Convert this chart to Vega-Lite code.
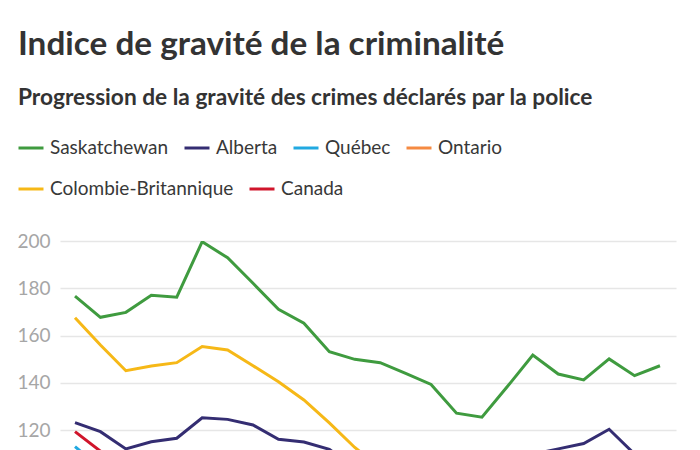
{
  "$schema": "https://vega.github.io/schema/vega-lite/v6.json",
  "width": 616,
  "height": 378,
  "autosize": {"type": "none"},
  "padding": {"left": 60, "top": 241, "right": 24, "bottom": 10},
  "background": "white",
  "title": {
    "text": "Indice de gravité de la criminalité",
    "subtitle": "Progression de la gravité des crimes déclarés par la police",
    "anchor": "start",
    "frame": "group",
    "dx": -42,
    "offset": 23,
    "font": "Lato",
    "fontSize": 33.3,
    "fontWeight": "bold",
    "color": "#333333",
    "subtitleFont": "Lato",
    "subtitleFontSize": 22.7,
    "subtitleFontWeight": "bold",
    "subtitleColor": "#333333",
    "subtitlePadding": 25
  },
  "data": {
    "values": [
      {"annee": 1998, "region": "Saskatchewan", "indice": 176.7},
      {"annee": 1999, "region": "Saskatchewan", "indice": 167.7},
      {"annee": 2000, "region": "Saskatchewan", "indice": 169.8},
      {"annee": 2001, "region": "Saskatchewan", "indice": 177.0},
      {"annee": 2002, "region": "Saskatchewan", "indice": 176.2},
      {"annee": 2003, "region": "Saskatchewan", "indice": 199.7},
      {"annee": 2004, "region": "Saskatchewan", "indice": 192.9},
      {"annee": 2005, "region": "Saskatchewan", "indice": 182.1},
      {"annee": 2006, "region": "Saskatchewan", "indice": 171.1},
      {"annee": 2007, "region": "Saskatchewan", "indice": 165.2},
      {"annee": 2008, "region": "Saskatchewan", "indice": 153.1},
      {"annee": 2009, "region": "Saskatchewan", "indice": 149.9},
      {"annee": 2010, "region": "Saskatchewan", "indice": 148.5},
      {"annee": 2011, "region": "Saskatchewan", "indice": 144.0},
      {"annee": 2012, "region": "Saskatchewan", "indice": 139.3},
      {"annee": 2013, "region": "Saskatchewan", "indice": 127.1},
      {"annee": 2014, "region": "Saskatchewan", "indice": 125.4},
      {"annee": 2015, "region": "Saskatchewan", "indice": 138.4},
      {"annee": 2016, "region": "Saskatchewan", "indice": 151.7},
      {"annee": 2017, "region": "Saskatchewan", "indice": 143.7},
      {"annee": 2018, "region": "Saskatchewan", "indice": 141.2},
      {"annee": 2019, "region": "Saskatchewan", "indice": 150.1},
      {"annee": 2020, "region": "Saskatchewan", "indice": 143.0},
      {"annee": 2021, "region": "Saskatchewan", "indice": 147.2},

      {"annee": 1998, "region": "Alberta", "indice": 123.1},
      {"annee": 1999, "region": "Alberta", "indice": 119.3},
      {"annee": 2000, "region": "Alberta", "indice": 112.0},
      {"annee": 2001, "region": "Alberta", "indice": 115.0},
      {"annee": 2002, "region": "Alberta", "indice": 116.5},
      {"annee": 2003, "region": "Alberta", "indice": 125.2},
      {"annee": 2004, "region": "Alberta", "indice": 124.5},
      {"annee": 2005, "region": "Alberta", "indice": 122.1},
      {"annee": 2006, "region": "Alberta", "indice": 116.1},
      {"annee": 2007, "region": "Alberta", "indice": 114.9},
      {"annee": 2008, "region": "Alberta", "indice": 111.8},
      {"annee": 2009, "region": "Alberta", "indice": 104.0},
      {"annee": 2010, "region": "Alberta", "indice": 98.0},
      {"annee": 2011, "region": "Alberta", "indice": 91.0},
      {"annee": 2012, "region": "Alberta", "indice": 90.0},
      {"annee": 2013, "region": "Alberta", "indice": 89.0},
      {"annee": 2014, "region": "Alberta", "indice": 93.0},
      {"annee": 2015, "region": "Alberta", "indice": 105.0},
      {"annee": 2016, "region": "Alberta", "indice": 109.8},
      {"annee": 2017, "region": "Alberta", "indice": 112.0},
      {"annee": 2018, "region": "Alberta", "indice": 114.3},
      {"annee": 2019, "region": "Alberta", "indice": 120.3},
      {"annee": 2020, "region": "Alberta", "indice": 109.8},
      {"annee": 2021, "region": "Alberta", "indice": 104.0},

      {"annee": 1998, "region": "Québec", "indice": 113.0},
      {"annee": 1999, "region": "Québec", "indice": 104.0},
      {"annee": 2000, "region": "Québec", "indice": 101.0},
      {"annee": 2001, "region": "Québec", "indice": 100.0},
      {"annee": 2002, "region": "Québec", "indice": 99.0},
      {"annee": 2003, "region": "Québec", "indice": 101.0},
      {"annee": 2004, "region": "Québec", "indice": 98.0},
      {"annee": 2005, "region": "Québec", "indice": 95.0},
      {"annee": 2006, "region": "Québec", "indice": 94.0},
      {"annee": 2007, "region": "Québec", "indice": 89.0},
      {"annee": 2008, "region": "Québec", "indice": 86.0},
      {"annee": 2009, "region": "Québec", "indice": 82.0},
      {"annee": 2010, "region": "Québec", "indice": 78.0},
      {"annee": 2011, "region": "Québec", "indice": 74.0},
      {"annee": 2012, "region": "Québec", "indice": 71.0},
      {"annee": 2013, "region": "Québec", "indice": 64.0},
      {"annee": 2014, "region": "Québec", "indice": 59.0},
      {"annee": 2015, "region": "Québec", "indice": 57.0},
      {"annee": 2016, "region": "Québec", "indice": 58.0},
      {"annee": 2017, "region": "Québec", "indice": 57.0},
      {"annee": 2018, "region": "Québec", "indice": 58.0},
      {"annee": 2019, "region": "Québec", "indice": 60.0},
      {"annee": 2020, "region": "Québec", "indice": 57.0},
      {"annee": 2021, "region": "Québec", "indice": 57.0},

      {"annee": 1998, "region": "Ontario", "indice": 102.0},
      {"annee": 1999, "region": "Ontario", "indice": 97.0},
      {"annee": 2000, "region": "Ontario", "indice": 93.0},
      {"annee": 2001, "region": "Ontario", "indice": 91.0},
      {"annee": 2002, "region": "Ontario", "indice": 89.0},
      {"annee": 2003, "region": "Ontario", "indice": 88.0},
      {"annee": 2004, "region": "Ontario", "indice": 84.0},
      {"annee": 2005, "region": "Ontario", "indice": 81.0},
      {"annee": 2006, "region": "Ontario", "indice": 80.0},
      {"annee": 2007, "region": "Ontario", "indice": 75.0},
      {"annee": 2008, "region": "Ontario", "indice": 71.0},
      {"annee": 2009, "region": "Ontario", "indice": 68.0},
      {"annee": 2010, "region": "Ontario", "indice": 65.0},
      {"annee": 2011, "region": "Ontario", "indice": 60.0},
      {"annee": 2012, "region": "Ontario", "indice": 58.0},
      {"annee": 2013, "region": "Ontario", "indice": 53.0},
      {"annee": 2014, "region": "Ontario", "indice": 51.0},
      {"annee": 2015, "region": "Ontario", "indice": 52.0},
      {"annee": 2016, "region": "Ontario", "indice": 54.0},
      {"annee": 2017, "region": "Ontario", "indice": 56.0},
      {"annee": 2018, "region": "Ontario", "indice": 59.0},
      {"annee": 2019, "region": "Ontario", "indice": 60.0},
      {"annee": 2020, "region": "Ontario", "indice": 55.0},
      {"annee": 2021, "region": "Ontario", "indice": 54.0},

      {"annee": 1998, "region": "Colombie-Britannique", "indice": 167.5},
      {"annee": 1999, "region": "Colombie-Britannique", "indice": 156.0},
      {"annee": 2000, "region": "Colombie-Britannique", "indice": 145.1},
      {"annee": 2001, "region": "Colombie-Britannique", "indice": 147.1},
      {"annee": 2002, "region": "Colombie-Britannique", "indice": 148.5},
      {"annee": 2003, "region": "Colombie-Britannique", "indice": 155.3},
      {"annee": 2004, "region": "Colombie-Britannique", "indice": 153.9},
      {"annee": 2005, "region": "Colombie-Britannique", "indice": 147.2},
      {"annee": 2006, "region": "Colombie-Britannique", "indice": 140.4},
      {"annee": 2007, "region": "Colombie-Britannique", "indice": 132.7},
      {"annee": 2008, "region": "Colombie-Britannique", "indice": 123.0},
      {"annee": 2009, "region": "Colombie-Britannique", "indice": 112.6},
      {"annee": 2010, "region": "Colombie-Britannique", "indice": 104.0},
      {"annee": 2011, "region": "Colombie-Britannique", "indice": 97.0},
      {"annee": 2012, "region": "Colombie-Britannique", "indice": 95.0},
      {"annee": 2013, "region": "Colombie-Britannique", "indice": 88.0},
      {"annee": 2014, "region": "Colombie-Britannique", "indice": 93.0},
      {"annee": 2015, "region": "Colombie-Britannique", "indice": 98.0},
      {"annee": 2016, "region": "Colombie-Britannique", "indice": 95.0},
      {"annee": 2017, "region": "Colombie-Britannique", "indice": 93.0},
      {"annee": 2018, "region": "Colombie-Britannique", "indice": 97.0},
      {"annee": 2019, "region": "Colombie-Britannique", "indice": 102.0},
      {"annee": 2020, "region": "Colombie-Britannique", "indice": 102.0},
      {"annee": 2021, "region": "Colombie-Britannique", "indice": 98.0},

      {"annee": 1998, "region": "Canada", "indice": 119.3},
      {"annee": 1999, "region": "Canada", "indice": 111.0},
      {"annee": 2000, "region": "Canada", "indice": 106.7},
      {"annee": 2001, "region": "Canada", "indice": 105.3},
      {"annee": 2002, "region": "Canada", "indice": 104.1},
      {"annee": 2003, "region": "Canada", "indice": 106.8},
      {"annee": 2004, "region": "Canada", "indice": 104.1},
      {"annee": 2005, "region": "Canada", "indice": 101.3},
      {"annee": 2006, "region": "Canada", "indice": 100.0},
      {"annee": 2007, "region": "Canada", "indice": 95.3},
      {"annee": 2008, "region": "Canada", "indice": 90.6},
      {"annee": 2009, "region": "Canada", "indice": 87.8},
      {"annee": 2010, "region": "Canada", "indice": 82.9},
      {"annee": 2011, "region": "Canada", "indice": 77.6},
      {"annee": 2012, "region": "Canada", "indice": 75.4},
      {"annee": 2013, "region": "Canada", "indice": 68.8},
      {"annee": 2014, "region": "Canada", "indice": 66.9},
      {"annee": 2015, "region": "Canada", "indice": 70.4},
      {"annee": 2016, "region": "Canada", "indice": 72.0},
      {"annee": 2017, "region": "Canada", "indice": 73.6},
      {"annee": 2018, "region": "Canada", "indice": 75.6},
      {"annee": 2019, "region": "Canada", "indice": 79.8},
      {"annee": 2020, "region": "Canada", "indice": 73.9},
      {"annee": 2021, "region": "Canada", "indice": 73.7}
    ]
  },
  "encoding": {
    "x": {
      "field": "annee",
      "type": "quantitative",
      "scale": {"domain": [1997.41, 2021.63], "nice": false, "zero": false},
      "axis": {"grid": false, "domain": false, "ticks": false, "format": "d", "labelColor": "#a6a6a6", "labelFont": "Lato", "labelFontSize": 17, "title": null}
    },
    "y": {
      "field": "indice",
      "type": "quantitative",
      "scale": {"domain": [40, 200], "nice": false, "zero": false},
      "axis": {
        "values": [40, 60, 80, 100, 120, 140, 160, 180, 200],
        "title": null,
        "domain": false,
        "ticks": false,
        "labelPadding": 10,
        "labelFont": "Lato",
        "labelFontSize": 19,
        "labelColor": "#a6a6a6",
        "gridColor": "#e6e6e6",
        "gridWidth": 1.5
      }
    },
    "order": {"field": "annee", "type": "quantitative"}
  },
  "layer": [
    {
      "transform": [{"filter": {"field": "region", "oneOf": ["Saskatchewan", "Alberta", "Québec", "Ontario"]}}],
      "mark": {"type": "line", "strokeWidth": 3, "strokeJoin": "miter", "clip": true},
      "encoding": {
        "color": {
          "field": "region",
          "type": "nominal",
          "sort": ["Saskatchewan", "Alberta", "Québec", "Ontario"],
          "scale": {
            "domain": ["Saskatchewan", "Alberta", "Québec", "Ontario"],
            "range": ["#3f9b3f", "#342d72", "#21a9e1", "#f58a42"]
          },
          "legend": {
            "title": null,
            "orient": "none",
            "legendX": -43,
            "legendY": -107,
            "direction": "horizontal",
            "symbolType": "stroke",
            "symbolSize": 625,
            "symbolStrokeWidth": 3,
            "labelFont": "Lato",
            "labelFontSize": 19,
            "labelColor": "#383838",
            "labelOffset": 5,
            "columnPadding": 9,
            "padding": 0,
            "labelLimit": 400
          }
        }
      }
    },
    {
      "transform": [{"filter": {"field": "region", "oneOf": ["Colombie-Britannique", "Canada"]}}],
      "mark": {"type": "line", "strokeWidth": 3, "strokeJoin": "miter", "clip": true},
      "encoding": {
        "color": {
          "field": "region",
          "type": "nominal",
          "sort": ["Colombie-Britannique", "Canada"],
          "scale": {
            "domain": ["Colombie-Britannique", "Canada"],
            "range": ["#f6b817", "#d0152b"]
          },
          "legend": {
            "title": null,
            "orient": "none",
            "legendX": -43,
            "legendY": -66,
            "direction": "horizontal",
            "symbolType": "stroke",
            "symbolSize": 625,
            "symbolStrokeWidth": 3,
            "labelFont": "Lato",
            "labelFontSize": 19,
            "labelColor": "#383838",
            "labelOffset": 5,
            "columnPadding": 9,
            "padding": 0,
            "labelLimit": 400
          }
        }
      }
    }
  ],
  "resolve": {"scale": {"color": "independent"}, "legend": {"color": "independent"}},
  "config": {"view": {"stroke": null}}
}
